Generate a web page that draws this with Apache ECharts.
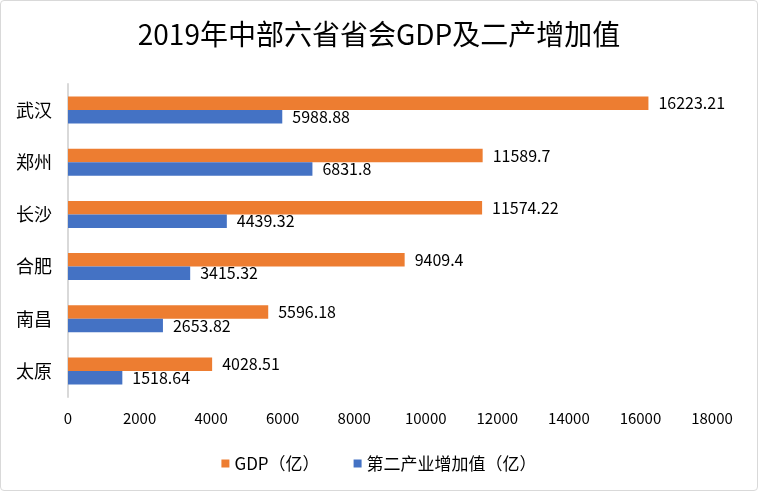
<!DOCTYPE html>
<html><head><meta charset="utf-8">
<script src="https://cdn.jsdelivr.net/npm/echarts@6/dist/echarts.min.js"></script>
<style>
html,body{margin:0;padding:0;background:#fff;}
#wrap{position:absolute;left:0;top:0;width:756px;height:489px;border:1px solid #d9d9d9;border-radius:4px;}
#c{width:756px;height:489px;}
</style></head>
<body><div id="wrap"><div id="c"></div></div>
<script>
const categories = ['武汉','郑州','长沙','合肥','南昌','太原'];
const gdp = [16223.21, 11589.7, 11574.22, 9409.4, 5596.18, 4028.51];
const secondary = [5988.88, 6831.8, 4439.32, 3415.32, 2653.82, 1518.64];
const seriesNames = ['GDP（亿）','第二产业增加值（亿）'];
const titleText = '2019年中部六省省会GDP及二产增加值';
const font = '"Noto Sans CJK SC", "Noto Sans", sans-serif';

const chart = echarts.init(document.getElementById('c'));
chart.setOption({
  animation:false,
  textStyle:{fontFamily:font},
  title:{text:titleText,left:'center',top:14,textStyle:{fontSize:28,fontWeight:'normal',color:'#000',fontFamily:font}},
  grid:{left:67,right:45,top:83,bottom:93,containLabel:false},
  legend:{bottom:13,itemWidth:8,itemHeight:8,itemGap:34,icon:'rect',
    textStyle:{fontSize:17,color:'#000',fontFamily:font},data:seriesNames},
  xAxis:{type:'value',min:0,max:18000,interval:2000,
    axisLine:{show:false},axisTick:{show:false},splitLine:{show:false},
    axisLabel:{fontSize:15,color:'#000',margin:14,fontFamily:font,formatter:v=>String(v)}},
  yAxis:{type:'category',data:categories,inverse:true,
    axisLine:{show:true,lineStyle:{color:'#d9d9d9',width:2}},axisTick:{show:false},
    axisLabel:{fontSize:18,color:'#000',margin:16,fontFamily:font}},
  series:[
    {name:seriesNames[0],type:'bar',data:gdp,barWidth:13.5,barGap:'0%',
      itemStyle:{color:'#ED7D31'},
      label:{show:true,position:'right',distance:10,fontSize:16,color:'#000',fontFamily:font}},
    {name:seriesNames[1],type:'bar',data:secondary,barWidth:13.5,
      itemStyle:{color:'#4472C4'},
      label:{show:true,position:'right',distance:10,fontSize:16,color:'#000',fontFamily:font}}
  ]
});
</script></body></html>
